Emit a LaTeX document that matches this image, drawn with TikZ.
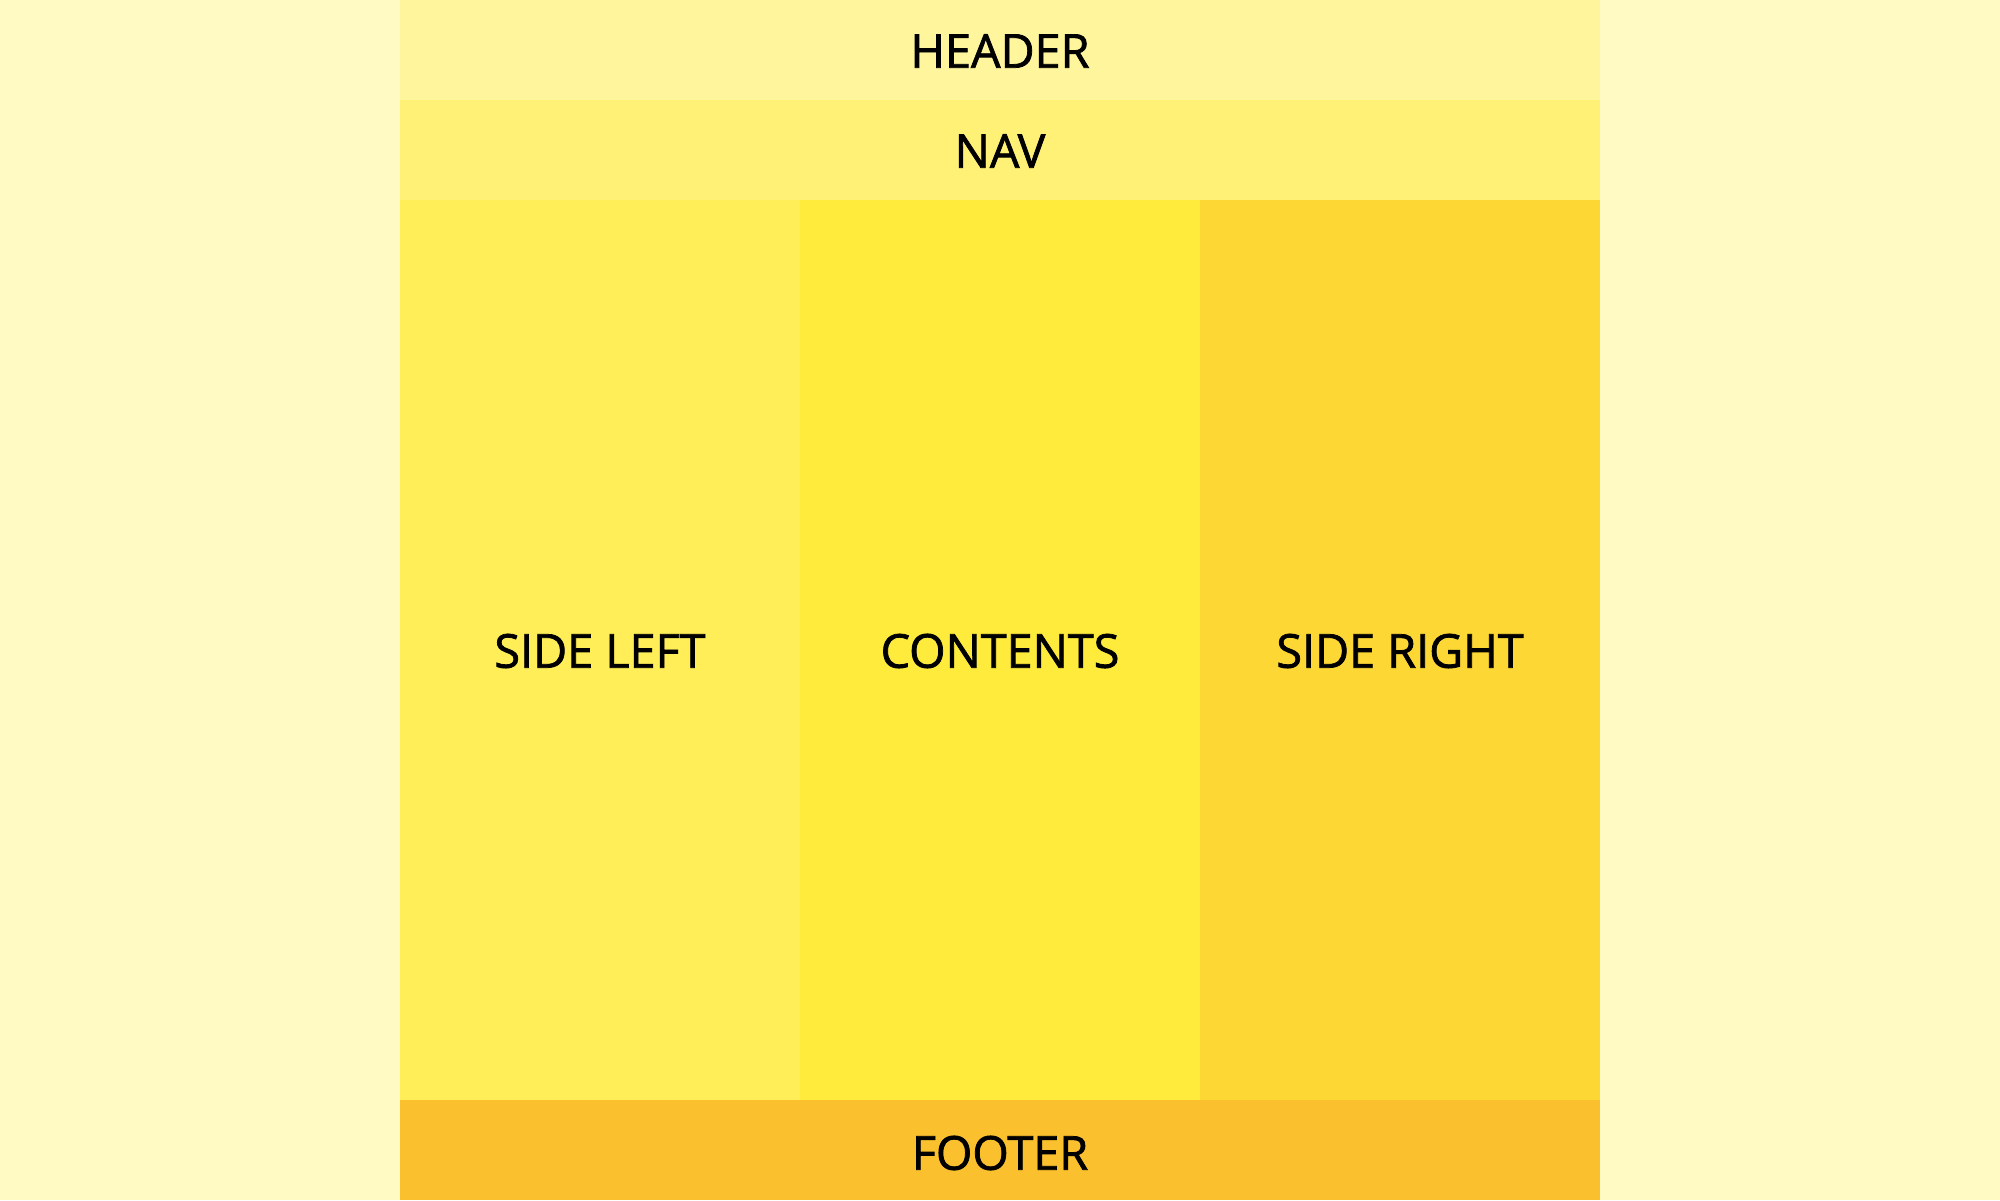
\documentclass[tikz,border=0pt]{standalone}
\usepackage{fontspec}
\setmainfont{Open Sans}
\newfontfamily\labelfont{Open Sans}[FakeBold=1.6]
\usepackage{tikz}

\definecolor{ylwbg}{HTML}{FFF9C4}
\definecolor{ylwhead}{HTML}{FFF59D}
\definecolor{ylwnav}{HTML}{FFF176}
\definecolor{ylwleft}{HTML}{FFEE58}
\definecolor{ylwmain}{HTML}{FFEB3B}
\definecolor{ylwright}{HTML}{FDD835}
\definecolor{ylwfoot}{HTML}{FBC02D}

\begin{document}
\begin{tikzpicture}[x=1cm,y=1cm,font=\labelfont\fontsize{13.3}{16}\selectfont,
  region/.style={inner sep=0pt,outer sep=0pt,text=black}]
  % Page background
  \fill[ylwbg] (0,0) rectangle (20,12);
  \useasboundingbox (0,0) rectangle (20,12);

  % Header and nav bars
  \fill[ylwhead] (4,11) rectangle (16,12);
  \node[region] (header) at (10,11.49) {HEADER};
  \fill[ylwnav] (4,10) rectangle (16,11);
  \node[region] (nav) at (10,10.49) {NAV};

  % Three columns
  \fill[ylwleft] (4,1) rectangle (8,10);
  \node[region] (sideleft) at (6,5.49) {SIDE LEFT};
  \fill[ylwmain] (8,1) rectangle (12,10);
  \node[region] (contents) at (10,5.49) {CONTENTS};
  \fill[ylwright] (12,1) rectangle (16,10);
  \node[region] (sideright) at (14,5.49) {SIDE RIGHT};

  % Footer
  \fill[ylwfoot] (4,0) rectangle (16,1);
  \node[region] (footer) at (10,0.47) {FOOTER};
\end{tikzpicture}
\end{document}
